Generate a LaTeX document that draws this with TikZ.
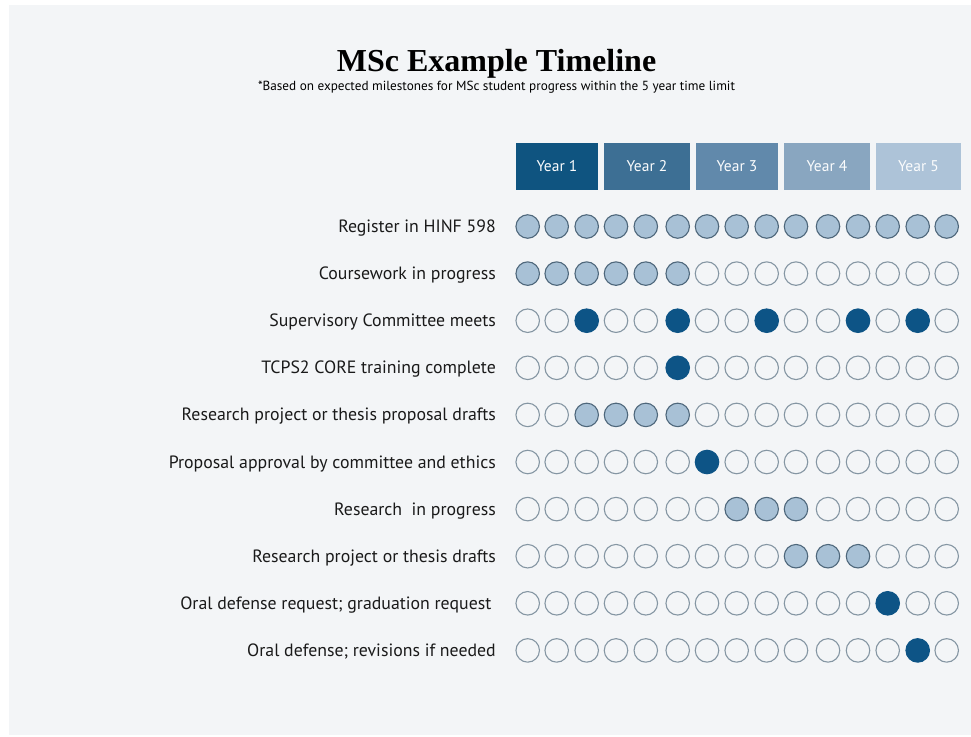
\documentclass[tikz,border=0pt]{standalone}
\usepackage{fontspec}
\setmainfont{Liberation Serif}
\setsansfont{PT Sans}
\definecolor{bgc}{HTML}{F3F5F7}
\definecolor{yA}{HTML}{0F5480}
\definecolor{yB}{HTML}{3D6F94}
\definecolor{yC}{HTML}{6189AB}
\definecolor{yD}{HTML}{89A6C0}
\definecolor{yE}{HTML}{ADC3D8}
\definecolor{lfill}{HTML}{A8C1D6}
\definecolor{ldraw}{HTML}{4E677B}
\definecolor{dfill}{HTML}{0D5486}
\definecolor{edraw}{HTML}{8596A3}
\definecolor{txt}{HTML}{1A1A1A}
\tikzset{
  dot/.style={circle, minimum size=23.5pt, inner sep=0pt, line width=1.1pt},
  ce/.style={dot, draw=edraw},
  cl/.style={dot, draw=ldraw, fill=lfill},
  cd/.style={dot, draw=dfill, fill=dfill},
  yearbox/.style={rectangle, inner sep=0pt, minimum height=47pt, text=white!95!yE, font=\sffamily\fontsize{15.5}{15.5}\selectfont},
  rowlab/.style={anchor=base east, inner sep=0pt, text=txt, font=\sffamily\fontsize{17.8}{17.8}\selectfont},
}
\begin{document}
\begin{tikzpicture}[x=1pt,y=-1pt]
\useasboundingbox (0,0) rectangle (971,736);
\fill[white] (0,0) rectangle (971,736);
\fill[bgc] (9,5) rectangle (971,735);
\node[anchor=base, inner sep=0pt, font=\bfseries\fontsize{32}{32}\selectfont] (title) at (496.5,71) {MSc Example Timeline};
\node[anchor=base, inner sep=0pt, font=\sffamily\fontsize{13.2}{13.2}\selectfont] (sub) at (496.5,90) {*Based on expected milestones for MSc student progress within the 5 year time limit};
\node[yearbox, fill=yA, minimum width=82pt] (y1) at (557,166.5) {Year 1};
\node[yearbox, fill=yB, minimum width=86pt] (y2) at (647,166.5) {Year 2};
\node[yearbox, fill=yC, minimum width=82pt] (y3) at (737,166.5) {Year 3};
\node[yearbox, fill=yD, minimum width=86pt] (y4) at (827,166.5) {Year 4};
\node[yearbox, fill=yE, minimum width=85pt] (y5) at (918.5,166.5) {Year 5};
\foreach \lab/\codes [count=\r] in {
  {Register in HINF 598}/{l,l,l,l,l,l,l,l,l,l,l,l,l,l,l},
  {Coursework in progress}/{l,l,l,l,l,l,e,e,e,e,e,e,e,e,e},
  {Supervisory Committee meets}/{e,e,d,e,e,d,e,e,d,e,e,d,e,d,e},
  {TCPS2 CORE training complete}/{e,e,e,e,e,d,e,e,e,e,e,e,e,e,e},
  {Research project or thesis proposal drafts}/{e,e,l,l,l,l,e,e,e,e,e,e,e,e,e},
  {Proposal approval by committee and ethics}/{e,e,e,e,e,e,d,e,e,e,e,e,e,e,e},
  {Research\ \ in progress}/{e,e,e,e,e,e,e,l,l,l,e,e,e,e,e},
  {Research project or thesis drafts}/{e,e,e,e,e,e,e,e,e,l,l,l,e,e,e},
  {Oral defense request; graduation request\kern4.5pt}/{e,e,e,e,e,e,e,e,e,e,e,e,d,e,e},
  {Oral defense; revisions if needed}/{e,e,e,e,e,e,e,e,e,e,e,e,e,d,e}} {
  \pgfmathsetmacro{\yy}{226.5+47.1*(\r-1)}
  \node[rowlab] (lab\r) at (496,\yy+6) {\lab};
  \foreach \s [count=\i] in \codes {
    \pgfmathsetmacro{\xx}{{527.7,556.7,586.7,616,645.8,677.7,707,736.7,766.7,796,828,858,887.7,917.7,946.7}[\i-1]}
    \node[c\s] (c-\r-\i) at (\xx,\yy) {};
  }
}
\end{tikzpicture}
\end{document}
